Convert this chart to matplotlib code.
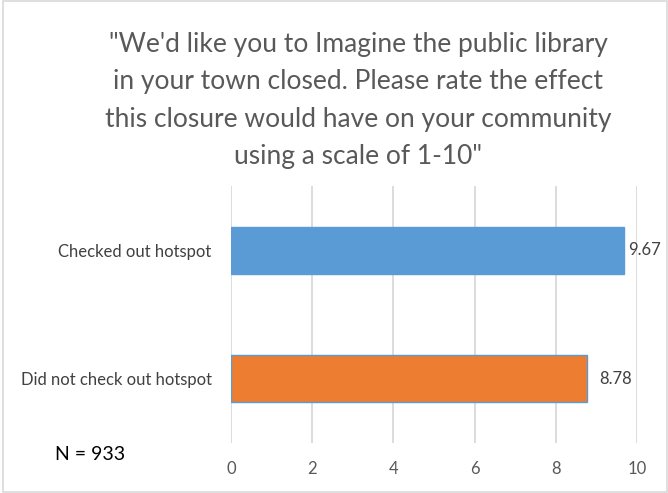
import numpy as np
import matplotlib.pyplot as plt
from matplotlib.patches import Rectangle

# survey data
categories = ['Did not check out hotspot', 'Checked out hotspot']
values = [8.78, 9.67]
colors = ['#ED7D31', '#5B9BD5']
title = ('"We\'d like you to Imagine the public library\n'
         'in your town closed. Please rate the effect\n'
         'this closure would have on your community\n'
         'using a scale of 1-10"')
x_ticks = [0, 2, 4, 6, 8, 10]

plt.rcParams['font.family'] = ['Lato', 'DejaVu Sans']

fig = plt.figure(figsize=(6.68, 4.93), dpi=100)
ax = fig.add_axes([0.3458, 0.1014, 0.6078, 0.5213])

pos = np.arange(len(categories))
ax.barh(pos, values, height=0.366, color=colors, edgecolor='#5B9BD5', linewidth=1, zorder=3)
# excel pushes the label of the longer bar closer (it hits the chart edge)
label_pad = [0.3, 0.11]
for p, v, pad in zip(pos, values, label_pad):
    ax.text(v + pad, p, f'{v:.2f}', va='center', ha='left', fontsize=12, color='#404040')

ax.set_xlim(0, 10)
ax.set_ylim(-0.5, 1.5)
ax.set_xticks(x_ticks)
ax.set_yticks(pos)
ax.set_yticklabels(categories)
ax.tick_params(axis='x', length=0, pad=13, labelsize=12, labelcolor='#595959')
ax.tick_params(axis='y', length=0, pad=14, labelsize=12, labelcolor='#404040')
ax.grid(axis='x', color='#D9D9D9', linewidth=1.3, zorder=0)
for s in ax.spines.values():
    s.set_visible(False)

fig.text(0.536, 0.936, title, ha='center', va='top', fontsize=19,
         color='#595959', linespacing=1.63)
fig.text(0.082, 0.079, 'N = 933', fontsize=14, color='black', va='center')

fig.patches.append(Rectangle((0.004, 0.003), 0.994, 0.994, transform=fig.transFigure,
                             fill=False, edgecolor='#D9D9D9', linewidth=1.2))

fig.savefig('out.png', dpi=100)
